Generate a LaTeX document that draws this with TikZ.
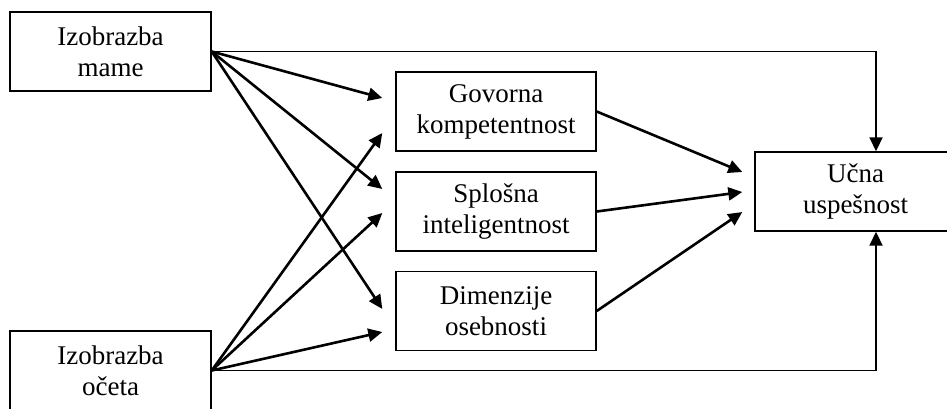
\documentclass[tikz,border=0pt]{standalone}
\usepackage{fontspec}
\setmainfont{Liberation Serif}
\usetikzlibrary{arrows.meta}
\usetikzlibrary{calc}

\begin{document}
\begin{tikzpicture}[x=0.5pt, y=-0.5pt, >={Triangle[length=7pt, width=6.5pt]}]
              \tikzset{box/.style={draw, line width=0.7pt, minimum width=100pt, minimum height=39.5pt,
                  align=center, font=\fontsize{13.5}{15.5}\selectfont}}
              \tikzset{path/.style={->, line width=1.3pt}}
              \tikzset{frame/.style={->, line width=0.9pt}}

              \useasboundingbox (0,0) rectangle (947,408);

              % sources
              \node[box, minimum width=100.5pt] (mame) at (110.5,51.5) {Izobrazba\\mame};
              \node[box, minimum width=100.5pt] (oce) at (110.5,370.5) {Izobrazba\\očeta};

              % mediators
              \node[box] (gov) at (496,111.5) {Govorna\\kompetentnost};
              \node[box] (spl) at (496,211.5) {Splošna\\inteligentnost};
              \node[box] (dim) at (496,311) {Dimenzije\\osebnosti};

              % outcome
              \node[box, minimum width=100.5pt] (ucna) at (855.5,191.5) {Učna\\uspešnost};

              \coordinate (gov-a) at ($(gov.west)+(-13,-13.5)$);
              \coordinate (gov-b) at ($(gov.west)+(-13,21.5)$);
              \coordinate (spl-a) at ($(spl.west)+(-13,-22.5)$);
              \coordinate (spl-b) at ($(spl.west)+(-13,1.5)$);
              \coordinate (dim-a) at ($(dim.west)+(-13,-2)$);
              \coordinate (dim-b) at ($(dim.west)+(-13,21)$);
              \coordinate (ucna-a) at ($(ucna.west)+(-12,-19.5)$);
              \coordinate (ucna-b) at ($(ucna.west)+(-12,0.5)$);
              \coordinate (ucna-c) at ($(ucna.west)+(-12,20.5)$);
              \coordinate (ucna-top) at ($(ucna.north)+(20.5,0)$);
              \coordinate (ucna-bot) at ($(ucna.south)+(20.5,0)$);

              \draw[path] (mame.east) -- (gov-a);
              \draw[path] (mame.east) -- (spl-a);
              \draw[path] (mame.east) -- (dim-a);
              \draw[path] (oce.east) -- (gov-b);
              \draw[path] (oce.east) -- (spl-b);
              \draw[path] (oce.east) -- (dim-b);

              \draw[path] (gov.east) -- (ucna-a);
              \draw[path] (spl.east) -- (ucna-b);
              \draw[path] (dim.east) -- (ucna-c);

              \draw[frame] (mame.east) -| (ucna-top);
              \draw[frame] (oce.east) -| (ucna-bot);
            \end{tikzpicture}
\end{document}
